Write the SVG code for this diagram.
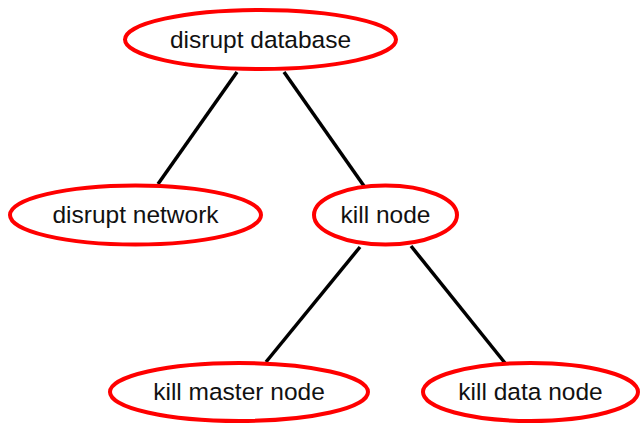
<svg xmlns="http://www.w3.org/2000/svg" width="640" height="423" viewBox="0 0 640 423">
<style>
.node ellipse{fill:#fff;stroke:#f00;stroke-width:4}
.node text{font-family:"Liberation Sans",Arial,sans-serif;font-size:24.5px;fill:#111;text-anchor:middle}
#edges line{stroke:#000;stroke-width:3.5}
</style>
<rect width="640" height="423" fill="#fff"/>
<g id="edges">
<line x1="237" y1="72" x2="158" y2="184"/>
<line x1="284" y1="72" x2="364" y2="186"/>
<line x1="360" y1="247" x2="266" y2="362"/>
<line x1="411" y1="246" x2="505" y2="363"/>
</g>
<g id="n1" class="node"><ellipse cx="260.5" cy="39.5" rx="135.5" ry="29.5"/><text x="260.5" y="47.5">disrupt database</text></g>
<g id="n2" class="node"><ellipse cx="135.5" cy="215" rx="125.5" ry="29.5"/><text x="135.5" y="223">disrupt network</text></g>
<g id="n3" class="node"><ellipse cx="385.5" cy="215" rx="71.5" ry="29.5"/><text x="385.5" y="223">kill node</text></g>
<g id="n4" class="node"><ellipse cx="239" cy="392" rx="129" ry="29"/><text x="239" y="400">kill master node</text></g>
<g id="n5" class="node"><ellipse cx="530.5" cy="392" rx="107.5" ry="29"/><text x="530.5" y="400">kill data node</text></g>
</svg>
